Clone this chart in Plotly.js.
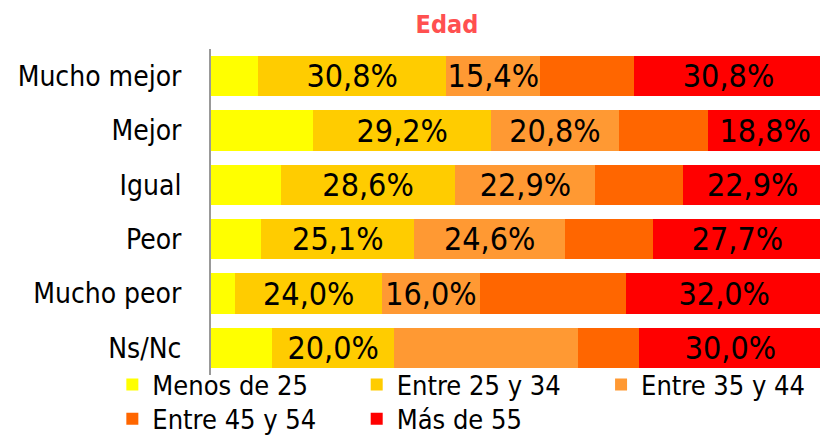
<!DOCTYPE html>
<html>
<head>
<meta charset="utf-8">
<script src="https://cdn.plot.ly/plotly-3.0.1.min.js"></script>
<style>html,body{margin:0;padding:0;background:#fff;}#chart{width:820px;height:440px;}</style>
</head>
<body>
<div id="chart"></div>
<script>
const categories = ['Mucho mejor', 'Mejor', 'Igual', 'Peor', 'Mucho peor', 'Ns/Nc'];
const seriesNames = ['Menos de 25', 'Entre 25 y 34', 'Entre 35 y 44', 'Entre 45 y 54', 'Más de 55'];
const menos25 = [7.7, 16.7, 11.4, 8.2, 4.0, 10.0];
const entre25_34 = [30.8, 29.2, 28.6, 25.1, 24.0, 20.0];
const entre35_44 = [15.4, 20.8, 22.9, 24.6, 16.0, 30.0];
const entre45_54 = [15.4, 14.6, 14.3, 14.4, 24.0, 10.0];
const mas55 = [30.8, 18.8, 22.9, 27.7, 32.0, 30.0];
// which values carry a visible label in the reference
const showLabel = [
  [false, false, false, false, false, false],
  [true, true, true, true, true, true],
  [true, true, true, true, true, false],
  [false, false, false, false, false, false],
  [true, true, true, true, true, true]
];
const colors = ['#FFFF00', '#FFCC00', '#FF9933', '#FF6600', '#FF0000'];
const allSeries = [menos25, entre25_34, entre35_44, entre45_54, mas55];
const legendIds = ['legend', 'legend2', 'legend3', 'legend4', 'legend5'];

const fmt = v => v.toFixed(1).replace('.', ',') + '%';
const font = 'Tahoma, "DejaVu Sans Condensed", "DejaVu Sans", sans-serif';

const traces = allSeries.map((vals, i) => ({
  type: 'bar',
  orientation: 'h',
  name: seriesNames[i],
  legend: legendIds[i],
  y: categories,
  x: vals,
  marker: {color: colors[i], line: {width: 0}},
  text: vals.map((v, j) => showLabel[i][j] ? fmt(v) : ''),
  textposition: 'inside',
  insidetextanchor: 'middle',
  constraintext: 'none',
  textfont: {family: font, size: 32, color: '#000'},
  hoverinfo: 'skip'
}));

const legendBase = {
  orientation: 'h', xref: 'container', yref: 'container',
  xanchor: 'left', yanchor: 'middle',
  font: {family: font, size: 27, color: '#000'}, bgcolor: 'rgba(0,0,0,0)'
};
// legend slot positions (container fractions)
const legX = [0.137, 0.435, 0.733, 0.137, 0.435];
const legY = [0.125, 0.125, 0.125, 0.047, 0.047];

const layout = {
  width: 820, height: 440,
  margin: {l: 211, r: 0, t: 49, b: 65, autoexpand: false},
  paper_bgcolor: '#fff', plot_bgcolor: '#fff',
  barmode: 'stack',
  bargap: 0.26,
  title: {text: '<b>Edad</b>', x: 0.545, xanchor: 'center', y: 0.945, yanchor: 'middle',
          font: {family: font, size: 25, color: '#FF5050'}},
  xaxis: {range: [0, 99.67], showgrid: false, zeroline: false, showticklabels: false, showline: false, fixedrange: true},
  yaxis: {autorange: 'reversed', showgrid: false, zeroline: false, showline: true, linecolor: '#999', linewidth: 2,
          ticks: '', ticklabelstandoff: 22, tickfont: {family: font, size: 28, color: '#000'}},
  showlegend: true
};
legendIds.forEach((id, i) => {
  layout[id] = Object.assign({}, legendBase, {x: legX[i], y: legY[i]});
});

Plotly.newPlot('chart', traces, layout, {displayModeBar: false, staticPlot: true});
</script>
</body>
</html>
